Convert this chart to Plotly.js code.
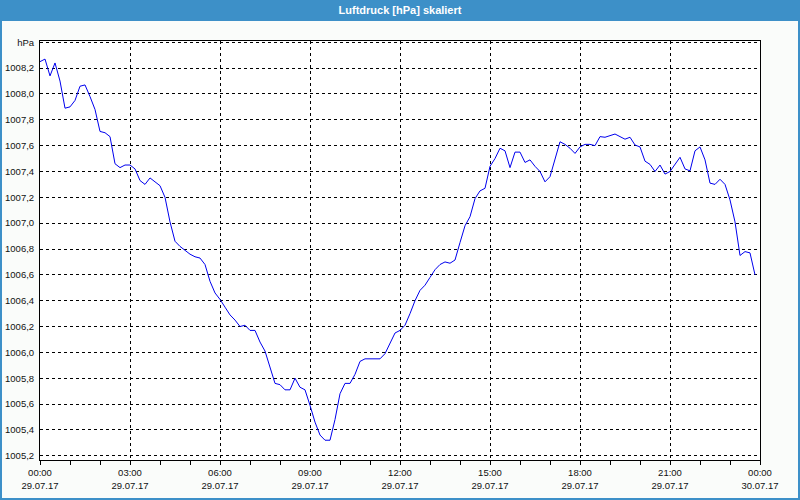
<!DOCTYPE html>
<html>
<head>
<meta charset="utf-8">
<script src="https://cdn.plot.ly/plotly-3.0.1.min.js"></script>
<style>
html,body{margin:0;padding:0;background:#fafcfa;}
#chart{width:800px;height:500px;}
</style>
</head>
<body>
<div id="chart"></div>
<script>
// Sampling: one reading every 10 minutes from 29.07.17 00:00
const startTime = '2017-07-29 00:00';
const stepMs = 600000;

// Luftdruck [hPa], 144 readings (00:00 ... 23:50)
const pressure = [
  1008.25, 1008.27, 1008.14, 1008.24, 1008.10, 1007.89, 1007.90, 1007.95, 1008.06, 1008.07,
  1007.98, 1007.88, 1007.71, 1007.70, 1007.67, 1007.46, 1007.43, 1007.45, 1007.45, 1007.42,
  1007.33, 1007.30, 1007.35, 1007.32, 1007.29, 1007.20, 1007.01, 1006.86, 1006.82, 1006.79,
  1006.76, 1006.74, 1006.73, 1006.68, 1006.55, 1006.46, 1006.41, 1006.35, 1006.29, 1006.25,
  1006.20, 1006.21, 1006.17, 1006.17, 1006.08, 1006.01, 1005.89, 1005.76, 1005.75, 1005.71,
  1005.71, 1005.80, 1005.73, 1005.71, 1005.59, 1005.46, 1005.36, 1005.32, 1005.32, 1005.48,
  1005.68, 1005.76, 1005.76, 1005.83, 1005.93, 1005.95, 1005.95, 1005.95, 1005.95, 1005.99,
  1006.07, 1006.15, 1006.17, 1006.21, 1006.30, 1006.40, 1006.48, 1006.52, 1006.58, 1006.64,
  1006.68, 1006.70, 1006.69, 1006.715, 1006.85, 1006.98, 1007.05, 1007.19, 1007.25, 1007.27,
  1007.44, 1007.50, 1007.58, 1007.56, 1007.43, 1007.55, 1007.55, 1007.47, 1007.49, 1007.44,
  1007.40, 1007.32, 1007.36, 1007.50, 1007.63, 1007.61, 1007.58, 1007.54, 1007.59, 1007.61,
  1007.61, 1007.60, 1007.67, 1007.665, 1007.68, 1007.69, 1007.67, 1007.65, 1007.665, 1007.605,
  1007.59, 1007.48, 1007.455, 1007.40, 1007.45, 1007.38, 1007.40, 1007.46, 1007.51, 1007.42,
  1007.405, 1007.56, 1007.59, 1007.49, 1007.31, 1007.30, 1007.34, 1007.30, 1007.18, 1007.01,
  1006.75, 1006.78, 1006.77, 1006.60
];

// Y tick values and labels
const yTickVals = [1005.2, 1005.4, 1005.6, 1005.8, 1006.0, 1006.2, 1006.4, 1006.6, 1006.8,
                   1007.0, 1007.2, 1007.4, 1007.6, 1007.8, 1008.0, 1008.2, 1008.4];
const yTickText = ['1005,2', '1005,4', '1005,6', '1005,8', '1006,0', '1006,2', '1006,4', '1006,6', '1006,8',
                   '1007,0', '1007,2', '1007,4', '1007,6', '1007,8', '1008,0', '1008,2', 'hPa'];

// X tick values and labels
const xTickVals = ['2017-07-29 00:00', '2017-07-29 03:00', '2017-07-29 06:00', '2017-07-29 09:00',
                   '2017-07-29 12:00', '2017-07-29 15:00', '2017-07-29 18:00', '2017-07-29 21:00',
                   '2017-07-30 00:00'];
const xTickText = ['00:00<br>29.07.17', '03:00<br>29.07.17', '06:00<br>29.07.17', '09:00<br>29.07.17',
                   '12:00<br>29.07.17', '15:00<br>29.07.17', '18:00<br>29.07.17', '21:00<br>29.07.17',
                   '00:00<br>30.07.17'];

const titleText = 'Luftdruck [hPa] skaliert';

const W = 800, H = 500, ml = 40, mr = 40, mt = 41, mb = 40;
const pw = W - ml - mr, ph = H - mt - mb;
const px = v => v / pw, py = v => v / ph;

const trace = {
  type: 'scatter',
  mode: 'lines',
  x0: startTime,
  dx: stepMs,
  y: pressure,
  line: {color: '#0000ee', width: 1},
  hoverinfo: 'skip'
};

const tickFont = {family: 'Liberation Sans, Arial, sans-serif', size: 9.5, color: '#111111'};

const layout = {
  width: W, height: H,
  margin: {l: ml, r: mr, t: mt, b: mb, pad: 0},
  paper_bgcolor: '#fafcfa',
  plot_bgcolor: '#ffffff',
  showlegend: false,
  title: {
    text: titleText,
    font: {family: 'Liberation Sans, Arial, sans-serif', size: 11, color: '#ffffff', weight: 'bold'},
    x: 0.5, xanchor: 'center', xref: 'container',
    y: 1 - 10 / H, yanchor: 'middle', yref: 'container'
  },
  xaxis: {
    type: 'date',
    range: ['2017-07-29 00:00', '2017-07-30 00:00'],
    tickmode: 'array', tickvals: xTickVals, ticktext: xTickText,
    tickfont: tickFont,
    ticks: 'outside', ticklen: 4, tickcolor: '#000000', tickwidth: 1,
    minor: {dtick: 3600000, tick0: '2017-07-29 00:00', ticks: 'outside', ticklen: 4, tickcolor: '#000000', showgrid: false},
    showgrid: true, gridcolor: '#000000', gridwidth: 1, griddash: 'dot',
    showline: true, linecolor: '#000000', linewidth: 1, mirror: true,
    zeroline: false, fixedrange: true
  },
  yaxis: {
    range: [1005.167, 1008.41],
    tickmode: 'array', tickvals: yTickVals, ticktext: yTickText,
    tickfont: tickFont,
    ticks: '', ticklabelstandoff: 3,
    showgrid: true, gridcolor: '#000000', gridwidth: 1, griddash: 'dot',
    showline: true, linecolor: '#000000', linewidth: 1, mirror: true,
    zeroline: false, fixedrange: true
  },
  shapes: [
    {type: 'rect', xref: 'paper', yref: 'paper', layer: 'below',
     x0: px(-ml), x1: 1 + px(mr), y0: 1 + py(mt - 20), y1: 1 + py(mt),
     fillcolor: '#3d90c8', line: {width: 0}},
    {type: 'rect', xref: 'paper', yref: 'paper', layer: 'below',
     x0: px(-ml + 1), x1: 1 + px(mr - 1), y0: py(-mb + 1), y1: 1 + py(mt - 20),
     fillcolor: 'rgba(0,0,0,0)', line: {width: 2, color: '#3d90c8'}}
  ]
};

Plotly.newPlot('chart', [trace], layout, {displayModeBar: false, staticPlot: true});
</script>
</body>
</html>
